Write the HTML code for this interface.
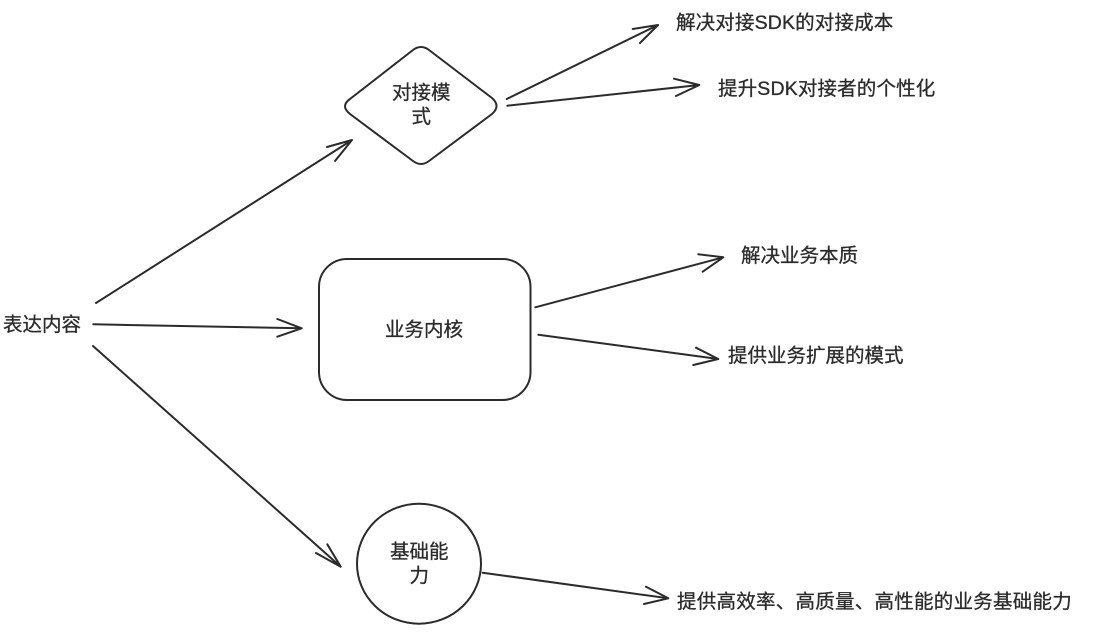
<!DOCTYPE html>
<html lang="zh">
<head>
<meta charset="utf-8">
<style>
html,body{margin:0;padding:0;background:#fff;width:1104px;height:632px;overflow:hidden}
svg{display:block}
text{font-family:"Liberation Sans","Noto Sans CJK SC",sans-serif;font-size:19.5px;fill:#2b2b2b;stroke:#2b2b2b;stroke-width:.3px}
.s{fill:none;stroke:#2b2b2b;stroke-width:2;stroke-linecap:round;stroke-linejoin:round}
</style>
</head>
<body>
<svg width="1104" height="632" viewBox="0 0 1104 632" xmlns="http://www.w3.org/2000/svg">
<rect width="1104" height="632" fill="#fff"/>
<g class="s">
<path class="s" d="M350,99 L413,50 Q421,44 429,50 L492,98 Q501,106 492,114 L429,161 Q421,167 413,161 L350,114 Q340,106 350,99 Z"/>
<rect class="s" x="319" y="259" width="211.500" height="141" rx="28" ry="28"/>
<ellipse class="s" cx="419" cy="563.700" rx="62" ry="60"/>

<path class="s" d="M96,303 L352,140 M327,147 L352,140 L335,161"/>
<path class="s" d="M93.300,324.300 L301.700,328.300 M277.300,319 L301.700,328.300 L277.300,336.700"/>
<path class="s" d="M93,346 L340.700,566.700 M327.300,544.300 L340.700,566.700 L316,553"/>

<path class="s" d="M506.700,99 L658,25 M632.700,29 L658,25 L640,43"/>
<path class="s" d="M507.300,105.700 L699.300,85 M674,78.700 L699.300,85 L676,96"/>
<path class="s" d="M535.300,307.300 L723.300,257.300 M698.300,254.300 L723.300,257.300 L702.700,271.700"/>
<path class="s" d="M538.300,334.700 L718.300,359 M696,347.700 L718.300,359 L693.300,365"/>
<path class="s" d="M482.700,572.700 L668.300,598.300 M646,586.700 L668.300,598.300 L644,604"/>
</g>

<text x="3" y="331">表达内容</text>
<text x="392" y="99">对接模</text>
<text x="411.500" y="123">式</text>
<text x="385" y="336">业务内核</text>
<text x="390" y="558">基础能</text>
<text x="409.500" y="582">力</text>
<text x="676" y="29" letter-spacing=".15">解决对接SDK的对接成本</text>
<text x="718" y="95" letter-spacing=".15">提升SDK对接者的个性化</text>
<text x="741" y="262">解决业务本质</text>
<text x="728" y="362">提供业务扩展的模式</text>
<text x="677" y="608" letter-spacing=".25">提供高效率、高质量、高性能的业务基础能力</text>
</svg>
</body>
</html>
